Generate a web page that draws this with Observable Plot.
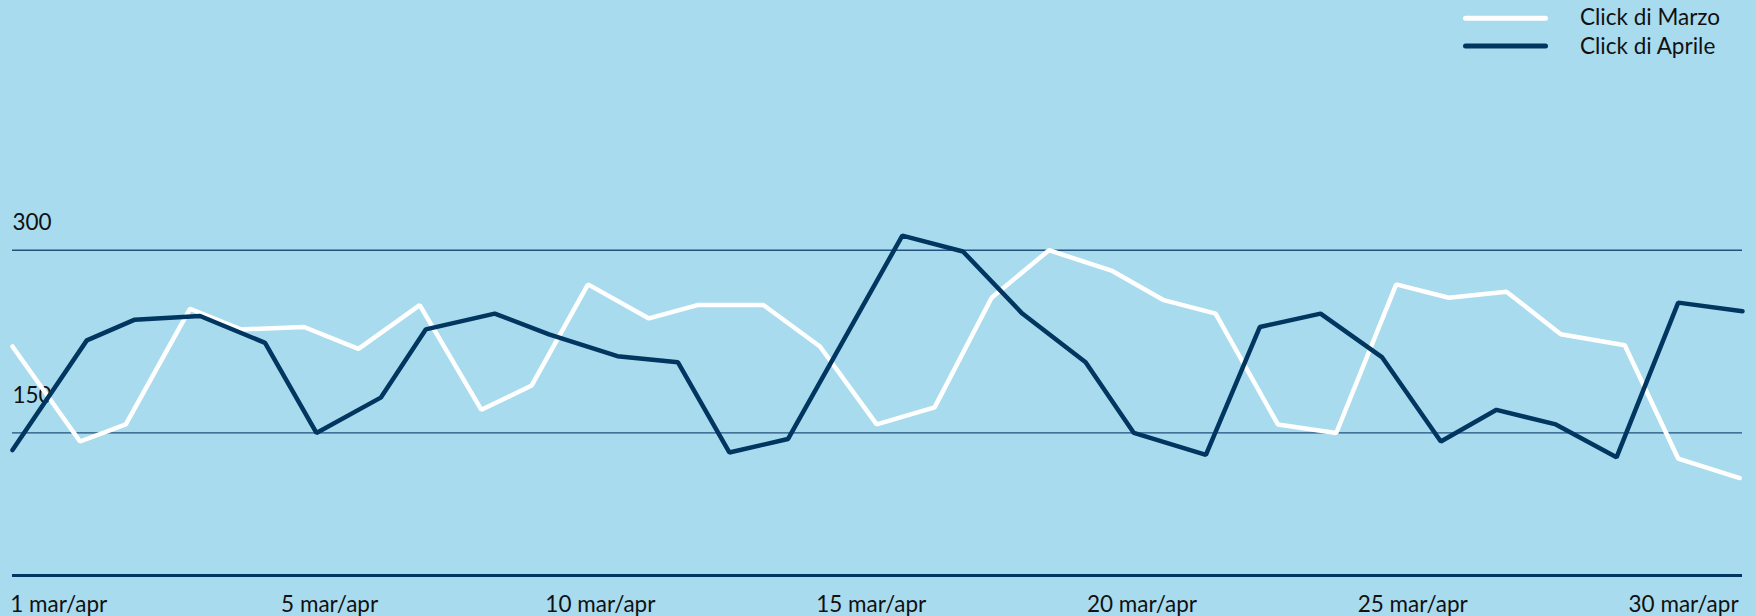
<!DOCTYPE html>
<html>
<head>
<meta charset="utf-8">
<script src="https://cdn.jsdelivr.net/npm/d3@7"></script>
<script src="https://cdn.jsdelivr.net/npm/@observablehq/plot@0.6"></script>
<style>
  html, body { margin: 0; padding: 0; background: #a8dbee; }
  #wrap { width: 1756px; height: 616px; overflow: hidden; font-family: Lato, "Noto Sans", sans-serif; }
  #legend { width: 1756px; height: 60px; display: block; }
  #chart svg { display: block; }
</style>
</head>
<body>
<div id="wrap">
  <svg id="legend" width="1756" height="60"></svg>
  <div id="chart"></div>
</div>
<script>
// Series names
const serieNomi = ["Click di Marzo", "Click di Aprile"];

// Horizontal positions (0 = "1", 5 = "5", ..., 30 = "30" label slots)
const xMarzo = [-0.855, 0.393, 1.237, 2.424, 3.360, 4.528, 5.533, 6.664, 7.803, 8.732, 9.771,
  10.897, 11.791, 13.009, 14.054, 15.101, 16.171, 17.224, 18.282, 19.452, 20.404,
  21.359, 22.509, 23.587, 24.694, 25.665, 26.730, 27.733, 28.914, 29.900, 31.037];
const clickMarzo = [221, 143, 157, 252, 235, 237, 219, 255, 169, 189, 272,
  244, 255, 255, 221, 157, 171, 261, 300, 283, 259,
  248, 157, 150, 272, 261, 266, 231, 222, 129, 113];

const xAprile = [-0.855, 0.517, 1.403, 2.608, 3.808, 4.757, 5.944, 6.775, 8.049, 9.051,
  10.314, 11.432, 12.381, 13.463, 15.575, 16.694, 17.790, 18.959, 19.850, 21.180,
  22.177, 23.297, 24.436, 25.518, 26.546, 27.641, 28.762, 29.901, 31.088];
const clickAprile = [136, 226, 243, 246, 224, 150, 179, 235, 248, 231,
  213, 208, 134, 145, 312, 299, 248, 208, 150, 132,
  237, 248, 212, 143, 169, 157, 130, 257, 250];

// Axis ticks
const yTicks = [300, 150];
const yDominio = [33, 450];
const xTickPos = [0, 5, 10, 15, 20, 25, 30];
const xTickLabels = ["1 mar/apr", "5 mar/apr", "10 mar/apr", "15 mar/apr", "20 mar/apr", "25 mar/apr", "30 mar/apr"];

const colori = ["#ffffff", "#00365f"];
const font = "Lato, 'Noto Sans', sans-serif";

const data = [
  ...xMarzo.map((x, i) => ({serie: serieNomi[0], x, y: clickMarzo[i]})),
  ...xAprile.map((x, i) => ({serie: serieNomi[1], x, y: clickAprile[i]}))
];

const chart = Plot.plot({
  width: 1756,
  height: 556,
  marginLeft: 12,
  marginRight: 14,
  marginTop: 7,
  marginBottom: 41,
  x: {domain: d3.extent(data, d => d.x), axis: null},
  y: {domain: yDominio, axis: null},
  color: {domain: serieNomi, range: colori},
  style: {background: "transparent", fontFamily: font, fontSize: "22.5px", color: "#111"},
  marks: [
    Plot.ruleY(yTicks, {stroke: "#22517c", strokeWidth: 1.3}),
    Plot.text([yTicks[0]], {y: d => d, text: d => String(d), frameAnchor: "left", textAnchor: "start", lineAnchor: "bottom", dy: -20, fill: "#111", fontSize: 22.5}),
    Plot.text([yTicks[1]], {y: d => d, text: d => String(d), frameAnchor: "left", textAnchor: "start", lineAnchor: "bottom", dy: -30, fill: "#111", fontSize: 22.5}),
    Plot.ruleY([yDominio[0]], {stroke: "#00365f", strokeWidth: 3}),
    Plot.text(xTickPos, {x: d => d, text: (d, i) => xTickLabels[i], frameAnchor: "bottom", lineAnchor: "bottom", dy: 36, fill: "#111", fontSize: 22.5}),
    Plot.line(data, {x: "x", y: "y", z: "serie", stroke: "serie", strokeWidth: 4.5, strokeLinecap: "round", strokeLinejoin: "miter"})
  ]
});
document.getElementById("chart").appendChild(chart);

// Legend (above the chart)
const leg = d3.select("#legend");
const rows = [{y: 18.3, base: 25}, {y: 46, base: 53.5}];
serieNomi.forEach((nome, i) => {
  leg.append("line")
    .attr("x1", 1465.5).attr("x2", 1545.5)
    .attr("y1", rows[i].y).attr("y2", rows[i].y)
    .attr("stroke", colori[i]).attr("stroke-width", 5).attr("stroke-linecap", "round");
  leg.append("text")
    .attr("x", 1580).attr("y", rows[i].base)
    .attr("fill", "#111")
    .style("font-family", font)
    .style("font-size", "22.5px")
    .text(nome);
});
</script>
</body>
</html>
